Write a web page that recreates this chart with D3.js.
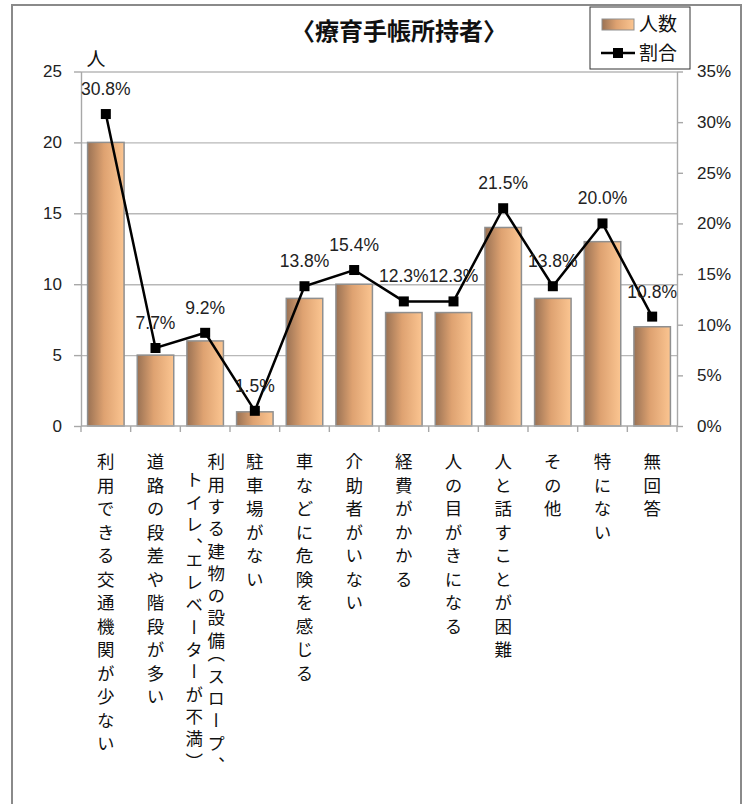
<!DOCTYPE html>
<html lang="ja">
<head>
<meta charset="utf-8">
<script src="https://cdn.jsdelivr.net/npm/d3@7"></script>
<style>
  html, body { margin: 0; padding: 0; background: #fff; }
  svg { display: block; }
  .num { font-family: "Liberation Sans", Arial, sans-serif; fill: #222; }
  .jp { font-family: "Noto Sans CJK JP", "Noto Sans CJK SC", sans-serif; fill: #111; }
</style>
</head>
<body>
<svg id="chart" width="748" height="804"></svg>
<script>
// Categories (x axis), counts (bars, left axis) and shares in % (line, right axis)
const categories = [
  "利用できる交通機関が少ない",
  "道路の段差や階段が多い",
  "利用する建物の設備（スロープ、\nトイレ、エレベーターが不満）",
  "駐車場がない",
  "車などに危険を感じる",
  "介助者がいない",
  "経費がかかる",
  "人の目がきになる",
  "人と話すことが困難",
  "その他",
  "特にない",
  "無回答"
];
const counts = [20, 5, 6, 1, 9, 10, 8, 8, 14, 9, 13, 7];
const shares = [30.8, 7.7, 9.2, 1.5, 13.8, 15.4, 12.3, 12.3, 21.5, 13.8, 20.0, 10.8];
const leftTicks = [0, 5, 10, 15, 20, 25];
const rightTicks = [0, 5, 10, 15, 20, 25, 30, 35];

const title = "〈療育手帳所持者〉";
const unitLabel = "人";
const legendLabels = ["人数", "割合"];

const svg = d3.select("#chart");

// plot area
const plot = { left: 81, right: 677, top: 71.5, bottom: 426 };

const x = d3.scaleBand()
  .domain(categories)
  .range([plot.left, plot.right])
  .paddingInner(0.265)
  .paddingOuter(0.1325);

const yL = d3.scaleLinear().domain([0, 25]).range([plot.bottom, plot.top]);
const yR = d3.scaleLinear().domain([0, 35]).range([plot.bottom, plot.top]);

// bar gradient
const defs = svg.append("defs");
const grad = defs.append("linearGradient").attr("id", "barGrad")
  .attr("x1", "0%").attr("x2", "100%").attr("y1", "0%").attr("y2", "0%");
grad.append("stop").attr("offset", "0%").attr("stop-color", "#9a7254");
grad.append("stop").attr("offset", "45%").attr("stop-color", "#dea271");
grad.append("stop").attr("offset", "100%").attr("stop-color", "#fbc591");

// outer frame
svg.append("rect")
  .attr("x", 12).attr("y", 5).attr("width", 729).attr("height", 900)
  .attr("fill", "none").attr("stroke", "#8a8a8a").attr("stroke-width", 2);

// horizontal gridlines
svg.append("g")
  .attr("transform", `translate(${plot.left},0)`)
  .call(d3.axisLeft(yL).tickValues(leftTicks.slice(1)).tickSize(-(plot.right - plot.left)).tickFormat(""))
  .call(g => g.select(".domain").remove())
  .call(g => g.selectAll("line").attr("stroke", "#b8b8b8").attr("stroke-width", 1.4));

// left axis
svg.append("g")
  .attr("transform", `translate(${plot.left},0)`)
  .call(d3.axisLeft(yL).tickValues(leftTicks).tickSize(7).tickPadding(12).tickSizeOuter(0))
  .call(g => g.select(".domain").attr("stroke", "#a8a8a8").attr("stroke-width", 1.4))
  .call(g => g.selectAll("line").attr("stroke", "#a8a8a8").attr("stroke-width", 1.4))
  .call(g => g.selectAll("text").attr("class", "num").attr("font-size", 17).attr("fill", "#222"));

// right axis
svg.append("g")
  .attr("transform", `translate(${plot.right},0)`)
  .call(d3.axisRight(yR).tickValues(rightTicks).tickSize(6).tickPadding(14).tickSizeOuter(0).tickFormat(d => d + "%"))
  .call(g => g.select(".domain").attr("stroke", "#a8a8a8").attr("stroke-width", 1.4))
  .call(g => g.selectAll("line").attr("stroke", "#a8a8a8").attr("stroke-width", 1.4))
  .call(g => g.selectAll("text").attr("class", "num").attr("font-size", 17).attr("fill", "#222"));

// bars
svg.append("g").selectAll("rect")
  .data(counts)
  .join("rect")
  .attr("x", (d, i) => x(categories[i]))
  .attr("y", d => yL(d))
  .attr("width", x.bandwidth())
  .attr("height", d => yL(0) - yL(d))
  .attr("fill", "url(#barGrad)")
  .attr("stroke", "#8f8f8f")
  .attr("stroke-width", 1.5);

// x axis line with ticks at category boundaries
const boundaries = d3.range(categories.length + 1).map(i => plot.left + i * x.step());
const xAxis = svg.append("g");
xAxis.append("line")
  .attr("x1", plot.left).attr("x2", plot.right)
  .attr("y1", plot.bottom).attr("y2", plot.bottom)
  .attr("stroke", "#a8a8a8").attr("stroke-width", 1.4);
xAxis.selectAll("line.tick")
  .data(boundaries)
  .join("line")
  .attr("class", "tick")
  .attr("x1", d => d).attr("x2", d => d)
  .attr("y1", plot.bottom).attr("y2", plot.bottom + 6)
  .attr("stroke", "#a8a8a8").attr("stroke-width", 1.4);

// vertical category labels (two-line labels set a little tighter)
const labelTop = 453;
const lineGap = 22;
const contIndent = 18;
categories.forEach((c, i) => {
  const lines = c.split("\n");
  const cx = x(c) + x.bandwidth() / 2;
  lines.forEach((ln, j) => {
    const off = (lines.length - 1) / 2 * lineGap - j * lineGap;
    svg.append("text")
      .attr("class", "jp")
      .attr("x", cx + off)
      .attr("y", labelTop + (j > 0 ? contIndent : 0))
      .attr("font-size", 17.5)
      .style("writing-mode", "vertical-rl")
      .style("font-feature-settings", "'vhal' 1")
      .style("letter-spacing", lines.length > 1 ? "4.8px" : "6px")
      .text(ln);
  });
});

// share line
const lineGen = d3.line()
  .x((d, i) => x(categories[i]) + x.bandwidth() / 2)
  .y(d => yR(d));
svg.append("path")
  .datum(shares)
  .attr("d", lineGen)
  .attr("fill", "none")
  .attr("stroke", "#000")
  .attr("stroke-width", 2.5);

const ms = 10;
svg.append("g").selectAll("rect")
  .data(shares)
  .join("rect")
  .attr("x", (d, i) => x(categories[i]) + x.bandwidth() / 2 - ms / 2)
  .attr("y", d => yR(d) - ms / 2)
  .attr("width", ms).attr("height", ms)
  .attr("fill", "#000");

// share value labels
svg.append("g").selectAll("text")
  .data(shares)
  .join("text")
  .attr("class", "num")
  .attr("x", (d, i) => x(categories[i]) + x.bandwidth() / 2)
  .attr("y", d => yR(d) - 19)
  .attr("text-anchor", "middle")
  .attr("font-size", 17.5)
  .text(d => d.toFixed(1) + "%");

// title
svg.append("text")
  .attr("class", "jp")
  .attr("x", 399).attr("y", 40)
  .attr("text-anchor", "middle")
  .attr("font-size", 24)
  .attr("font-weight", "bold")
  .text(title);

// unit label for left axis
svg.append("text")
  .attr("class", "jp")
  .attr("x", 96).attr("y", 66)
  .attr("text-anchor", "middle")
  .attr("font-size", 19)
  .text(unitLabel);

// legend
const lg = svg.append("g");
lg.append("rect")
  .attr("x", 590).attr("y", 7).attr("width", 100).attr("height", 62)
  .attr("fill", "#fff").attr("stroke", "#333").attr("stroke-width", 1);
lg.append("rect")
  .attr("x", 602).attr("y", 19).attr("width", 32).attr("height", 11)
  .attr("fill", "url(#barGrad)").attr("stroke", "#8f8f8f").attr("stroke-width", 1);
lg.append("line")
  .attr("x1", 601).attr("x2", 635).attr("y1", 53).attr("y2", 53)
  .attr("stroke", "#000").attr("stroke-width", 2.5);
lg.append("rect")
  .attr("x", 618 - ms / 2).attr("y", 53 - ms / 2).attr("width", ms).attr("height", ms)
  .attr("fill", "#000");
lg.selectAll("text.lt")
  .data(legendLabels)
  .join("text")
  .attr("class", "jp lt")
  .attr("x", 639)
  .attr("y", (d, i) => 31 + i * 29)
  .attr("font-size", 19)
  .text(d => d);
</script>
</body>
</html>
